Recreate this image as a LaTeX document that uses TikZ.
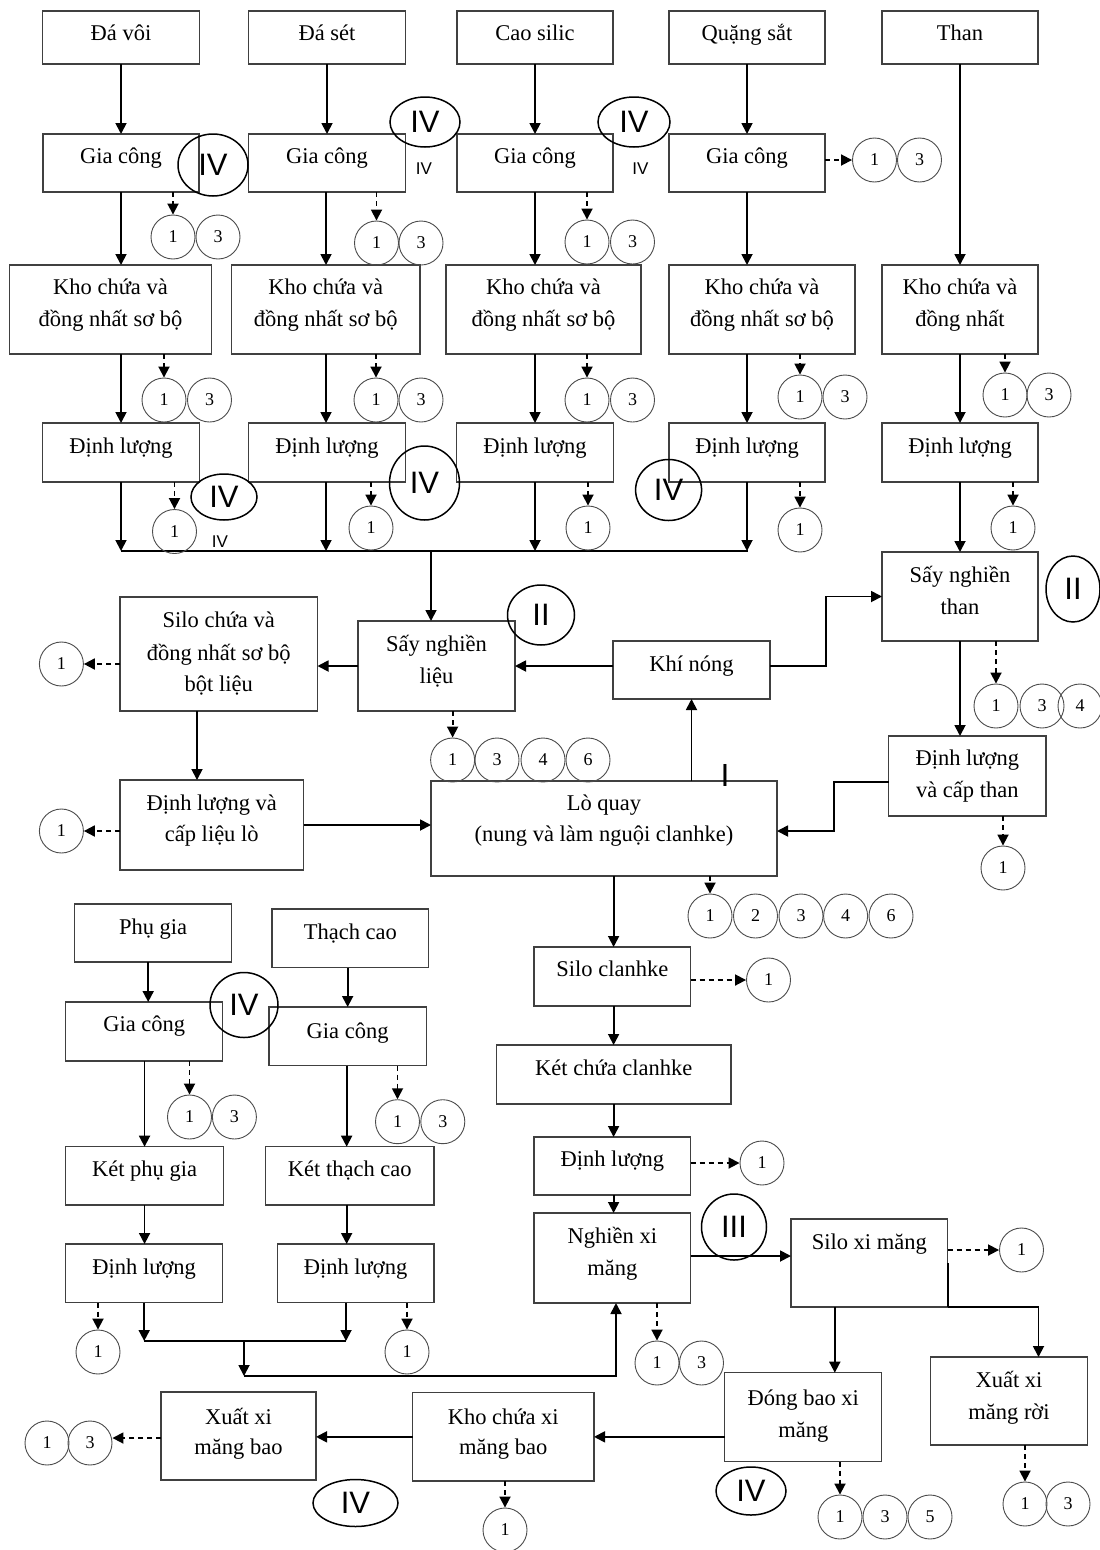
\documentclass[tikz,border=0pt]{standalone}
\usepackage{fontspec}
\setmainfont{Liberation Serif}
\newfontfamily\romfont{Liberation Sans}
\usetikzlibrary{arrows.meta,shapes.geometric}
\tikzset{
  box/.style={draw=black!75, line width=1.3pt, inner sep=0pt, outer sep=0pt},
  t/.style={font=\fontsize{22.5}{25}\selectfont, inner sep=0pt, anchor=base},
  circ/.style={draw=black!70, line width=0.9pt, circle, minimum size=44pt, inner sep=0pt, font=\fontsize{18}{18}\selectfont},
  arr/.style={line width=1.8pt, -{Triangle[length=11pt,width=11pt]}},
  darr/.style={arr, dash pattern=on 5pt off 4pt},
  ln/.style={line width=1.8pt},
  ell/.style={draw=black, line width=1.5pt, ellipse, inner sep=0pt, font=\romfont\fontsize{31}{31}\selectfont},
  st/.style={font=\romfont\fontsize{17}{17}\selectfont, inner sep=0pt}
}
\newcommand\bx[5]{\node[box,minimum width=#4pt,minimum height=#5pt] (#1) at (#2,#3) {};}
\newcommand\tx[4]{\node[t] (#1) at (#2,#3) {#4};}
\newcommand\cc[4]{\node[circ] (#1) at (#2,#3) {#4};}
\begin{document}
\begin{tikzpicture}[x=1pt,y=-1pt]
\useasboundingbox (0,0) rectangle (1100,1550);
\fill[white] (0,0) rectangle (1100,1550);
% ---------- row 1
\bx{dv}{121}{37.5}{157}{53}
\bx{ds}{327}{37.5}{157}{53}
\bx{cs}{535}{37.5}{156}{53}
\bx{qs}{747}{37.5}{156}{53}
\bx{than}{960}{37.5}{156}{53}
\tx{dvt}{121}{40}{Đá vôi}
\tx{dst}{327}{40}{Đá sét}
\tx{cst}{535}{40}{Cao silic}
\tx{qst}{747}{40}{Quặng sắt}
\tx{thant}{960}{40}{Than}
% ---------- row 2
\bx{gc1}{121}{163}{156}{58}
\bx{gc2}{327}{163}{157}{58}
\bx{gc3}{535}{163}{156}{58}
\bx{gc4}{747}{163}{156}{58}
\tx{gc1t}{121}{163}{Gia công}
\tx{gc2t}{327}{163}{Gia công}
\tx{gc3t}{535}{163}{Gia công}
\tx{gc4t}{747}{163}{Gia công}
% ---------- row 3
\bx{k1}{110.5}{309.5}{202}{89}
\bx{k2}{325.75}{309.5}{188.5}{89}
\bx{k3}{543.5}{309.5}{195}{89}
\bx{k4}{762}{309.5}{186}{89}
\bx{k5}{960}{309.5}{156}{89}
\tx{k1t}{110.5}{294}{Kho chứa và}\tx{k1u}{110.5}{326}{đồng nhất sơ bộ}
\tx{k2t}{325.75}{294}{Kho chứa và}\tx{k2u}{325.75}{326}{đồng nhất sơ bộ}
\tx{k3t}{543.5}{294}{Kho chứa và}\tx{k3u}{543.5}{326}{đồng nhất sơ bộ}
\tx{k4t}{762}{294}{Kho chứa và}\tx{k4u}{762}{326}{đồng nhất sơ bộ}
\tx{k5t}{960}{294}{Kho chứa và}\tx{k5u}{960}{326}{đồng nhất}
% ---------- row 4
\bx{d1}{121}{452.5}{156.5}{59}
\bx{d2}{327}{452.5}{157}{59}
\bx{d3}{535}{452.5}{157}{59}
\bx{d4}{747}{452.5}{156}{59}
\bx{d5}{960}{452.5}{156}{59}
\tx{d1t}{121}{453}{Định lượng}
\tx{d2t}{327}{453}{Định lượng}
\tx{d3t}{535}{453}{Định lượng}
\tx{d4t}{747}{453}{Định lượng}
\tx{d5t}{960}{453}{Định lượng}
% ---------- vertical arrows top
\draw[arr] (dv.south) -- (dv.south |- gc1.north);
\draw[arr] (ds.south) -- (ds.south |- gc2.north);
\draw[arr] (cs.south) -- (cs.south |- gc3.north);
\draw[arr] (qs.south) -- (qs.south |- gc4.north);
\draw[arr] (than.south) -- (than.south |- k5.north);
\draw[arr] (gc1.south) -- (gc1.south |- k1.north);
\draw[arr] ([xshift=-1pt]gc2.south) -- ([xshift=-1pt]gc2.south |- k2.north);
\draw[arr] (gc3.south) -- (gc3.south |- k3.north);
\draw[arr] (gc4.south) -- (gc4.south |- k4.north);
\draw[arr] (d1.north |- k1.south) -- (d1.north);
\draw[arr] ([xshift=-1pt]d2.north |- k2.south) -- ([xshift=-1pt]d2.north);
\draw[arr] (d3.north |- k3.south) -- (d3.north);
\draw[arr] (d4.north |- k4.south) -- (d4.north);
\draw[arr] (d5.north |- k5.south) -- (d5.north);
% ---------- bus
\coordinate (busL) at (121,551);
\coordinate (busR) at (748,551);
\coordinate (busM) at (431,551);
\draw[ln] (busL) -- (busR);
\draw[arr] (d1.south) -- (d1.south |- busL);
\draw[arr] ([xshift=-1pt]d2.south) -- ([xshift=-1pt]d2.south |- busL);
\draw[arr] (d3.south) -- (d3.south |- busL);
\draw[arr] (d4.south) -- (d4.south |- busL);
% ---------- circles top part
\cc{g1a}{173}{237}{1}\cc{g1b}{218}{237}{3}
\cc{g2a}{376.5}{243}{1}\cc{g2b}{421}{243}{3}
\cc{g3a}{587}{242}{1}\cc{g3b}{632.5}{242}{3}
\cc{g4a}{874.5}{160}{1}\cc{g4b}{919.5}{160}{3}
\draw[darr] (g1a.north |- gc1.south) -- (g1a.north);
\draw[darr] (g2a.north |- gc2.south) -- (g2a.north);
\draw[darr] (g3a.north |- gc3.south) -- (g3a.north);
\draw[darr] (gc4.east |- g4a.west) -- (g4a.west);
\cc{k1a}{164}{400}{1}\cc{k1b}{209.5}{400}{3}
\cc{k2a}{376}{400}{1}\cc{k2b}{421}{400}{3}
\cc{k3a}{587}{400}{1}\cc{k3b}{632.5}{400}{3}
\cc{k4a}{800}{397}{1}\cc{k4b}{845}{397}{3}
\cc{k5a}{1005}{395}{1}\cc{k5b}{1049}{395}{3}
\draw[darr] (k1a.north |- k1.south) -- (k1a.north);
\draw[darr] (k2a.north |- k2.south) -- (k2a.north);
\draw[darr] (k3a.north |- k3.south) -- (k3a.north);
\draw[darr] (k4a.north |- k4.south) -- (k4a.north);
\draw[darr] (k5a.north |- k5.south) -- (k5a.north);
\cc{d1a}{174.5}{531.5}{1}
\cc{d2a}{371}{528}{1}
\cc{d3a}{588}{528}{1}
\cc{d4a}{800}{530}{1}
\cc{d5a}{1013}{528}{1}
\draw[darr] (d1a.north |- d1.south) -- (d1a.north);
\draw[darr] (d2a.north |- d2.south) -- (d2a.north);
\draw[darr] (d3a.north |- d3.south) -- (d3a.north);
\draw[darr] (d4a.north |- d4.south) -- (d4a.north);
\draw[darr] (d5a.north |- d5.south) -- (d5a.north);
% ---------- IV marks top
\node[ell, minimum width=70pt, minimum height=62pt] (e1) at (213,165) {IV};
\node[ell, minimum width=70pt, minimum height=50pt] (e2) at (425,122) {IV};
\node[ell, minimum width=72pt, minimum height=50pt] (e3) at (634,122) {IV};
\node[ell, minimum width=66pt, minimum height=46pt] (e4) at (224,497) {IV};
\node[ell, minimum width=70pt, minimum height=74pt] (e5) at (424.5,483) {IV};
\node[ell, minimum width=66pt, minimum height=61pt] (e6) at (668.6,490) {IV};
\node[st] (s1) at (424,169) {IV};
\node[st] (s2) at (640.5,169) {IV};
\node[st] (s3) at (220,542) {IV};
% ---------- middle section
\bx{snl}{436.5}{666}{157}{90}
\tx{snlt}{436.5}{651}{Sấy nghiền}\tx{snlu}{436.5}{683}{liệu}
\bx{sbl}{218.75}{654}{197.5}{114}
\tx{sblt}{218.75}{627}{Silo chứa và}\tx{sblu}{218.75}{660}{đồng nhất sơ bộ}\tx{sblv}{218.75}{691}{bột liệu}
\bx{dlcl}{211.75}{825}{183.5}{90}
\tx{dlclt}{211.75}{810}{Định lượng và}\tx{dlclu}{211.75}{841}{cấp liệu lò}
\bx{lq}{604}{828.5}{346}{95}
\tx{lqt}{604}{810}{Lò quay}\tx{lqu}{604}{841}{(nung và làm nguội clanhke)}
\bx{kn}{691.5}{670}{157}{58}
\tx{knt}{691.5}{671}{Khí nóng}
\bx{snt}{960}{596.5}{156}{89}
\tx{sntt}{960}{582}{Sấy nghiền}\tx{sntu}{960}{614}{than}
\bx{dlct}{967.3}{776}{157.4}{80}
\tx{dlctt}{967.3}{765}{Định lượng}\tx{dlctu}{967.3}{797}{và cấp than}
\draw[arr] (busM) -- (busM |- snl.north);
\draw[arr] (snl.west) -- (snl.west -| sbl.east);
\draw[arr] (kn.west |- snl.east) -- (snl.east);
\draw[arr] (kn.east |- snl.east) -- ++(56,0) |- (snt.west);
\draw[arr] (kn.south |- lq.north) -- (kn.south);
\draw[arr] (d5.south) -- (snt.north);
\draw[arr] (snt.south) -- (snt.south |- dlct.north);
\draw[arr] ([yshift=-6pt]dlct.west) -- ++(-55,0) |- ([yshift=-2.5pt]lq.east);
\draw[arr] ([xshift=-21.75pt]sbl.south) -- ([xshift=-21.75pt]sbl.south |- dlcl.north);
\draw[arr] (dlcl.east) -- (dlcl.east -| lq.west);
\cc{sbla}{61.4}{664}{1}
\cc{dlcla}{61.4}{831}{1}
\draw[darr] (sbl.west |- sbla.east) -- (sbla.east);
\draw[darr] (dlcl.west |- dlcla.east) -- (dlcla.east);
\cc{snla}{452.6}{760}{1}\cc{snlb}{497}{760}{3}\cc{snlc}{543}{760}{4}\cc{snld}{588}{760}{6}
\draw[darr] (snla.north |- snl.south) -- (snla.north);
\cc{snta}{996}{706}{1}\cc{sntb}{1042}{706}{3}\cc{sntc}{1080}{706}{4}
\draw[darr] (snta.north |- snt.south) -- (snta.north);
\cc{dlcta}{1003}{868}{1}
\draw[darr] (dlcta.north |- dlct.south) -- (dlcta.north);
\node[ell, minimum width=67pt, minimum height=60pt] (e7) at (541,615) {II};
\node[ell, minimum width=54pt, minimum height=66pt] (e8) at (1073,589) {II};
\node[font=\romfont\fontsize{32}{32}\selectfont, inner sep=0pt] (lI) at (725,775) {I};
% ---------- clinker line
\bx{sc}{612.35}{976.5}{156.7}{59}
\tx{sct}{612.35}{976}{Silo clanhke}
\bx{kc}{613.8}{1074.5}{234.4}{59}
\tx{kct}{613.8}{1075}{Két chứa clanhke}
\bx{dlc}{612.35}{1166}{156.7}{58}
\tx{dlct2}{612.35}{1166}{Định lượng}
\bx{nxm}{612.35}{1258}{156.7}{90}
\tx{nxmt}{612.35}{1243}{Nghiền xi}\tx{nxmu}{612.35}{1275}{măng}
\bx{sxm}{869.3}{1263}{156.6}{88}
\tx{sxmt}{869.3}{1249}{Silo xi măng}
\draw[arr] ([xshift=1.25pt]sc.north |- lq.south) -- ([xshift=1.25pt]sc.north);
\cc{lqa}{710}{916}{1}\cc{lqb}{755.5}{916}{2}\cc{lqc}{801}{916}{3}\cc{lqd}{845.6}{916}{4}\cc{lqe}{891}{916}{6}
\draw[darr] (lqa.north |- lq.south) -- (lqa.north);
\cc{sca}{768.5}{980}{1}
\draw[darr] (sc.east |- sca.west) -- (sca.west);
\draw[arr] ([xshift=1.25pt]sc.south) -- ([xshift=1.25pt]sc.south |- kc.north);
\draw[arr] ([xshift=1.25pt]dlc.north |- kc.south) -- ([xshift=1.25pt]dlc.north);
\cc{dlca}{762}{1163}{1}
\draw[darr] (dlc.east |- dlca.west) -- (dlca.west);
\draw[arr] ([xshift=1.25pt]dlc.south) -- ([xshift=1.25pt]nxm.north);
\draw[arr] (nxm.east |- 0,1256) -- (sxm.west |- 0,1256);
\cc{sxma}{1021.5}{1250}{1}
\draw[darr] (sxm.east |- sxma.west) -- (sxma.west);
\node[ell, minimum width=65pt, minimum height=66pt] (e10) at (734,1227) {III};
\cc{nxma}{657}{1363}{1}\cc{nxmb}{701.5}{1363}{3}
\draw[darr] (nxma.north |- nxm.south) -- (nxma.north);
% ---------- packing
\bx{dbx}{803.25}{1417.2}{157}{89}
\tx{dbxt}{803.25}{1405}{Đóng bao xi}\tx{dbxu}{803.25}{1437}{măng}
\bx{xmr}{1009}{1401}{157}{88}
\tx{xmrt}{1009}{1387}{Xuất xi}\tx{xmru}{1009}{1419}{măng rời}
\bx{kxb}{503.25}{1436.85}{181.5}{88.3}
\tx{kxbt}{503.25}{1424}{Kho chứa xi}\tx{kxbu}{503.25}{1454}{măng bao}
\bx{xxb}{238.5}{1436}{155}{88}
\tx{xxbt}{238.5}{1424}{Xuất xi}\tx{xxbu}{238.5}{1454}{măng bao}
\draw[arr] ([xshift=-34.5pt]sxm.south) -- ([xshift=-34.5pt]sxm.south |- dbx.north);
\draw[ln] (sxm.east) -- (sxm.south east);
\draw[arr] (sxm.south east) -- ([xshift=29.5pt]xmr.north |- sxm.south east) -- ([xshift=29.5pt]xmr.north);
\draw[arr] (dbx.west |- kxb.east) -- (kxb.east);
\draw[arr] (kxb.west) -- (kxb.west -| xxb.east);
\cc{dbxa}{840}{1517}{1}\cc{dbxb}{885}{1517}{3}\cc{dbxc}{930}{1517}{5}
\draw[darr] (dbxa.north |- dbx.south) -- (dbxa.north);
\cc{xmra}{1025}{1504}{1}\cc{xmrb}{1068}{1504}{3}
\draw[darr] (xmra.north |- xmr.south) -- (xmra.north);
\cc{kxba}{505}{1530}{1}
\draw[darr] (kxba.north |- kxb.south) -- (kxba.north);
\cc{xxba}{47}{1443}{1}\cc{xxbb}{90}{1443}{3}
\draw[darr] (xxb.west |- 0,1438) -- (xxbb.east |- 0,1438);
\node[ell, minimum width=85pt, minimum height=47pt] (e11) at (355.5,1503) {IV};
\node[ell, minimum width=70pt, minimum height=48pt] (e12) at (751,1491) {IV};
% ---------- additives
\bx{pg}{153.15}{933}{157}{58}
\tx{pgt}{153.15}{934}{Phụ gia}
\bx{tc}{350.4}{938.35}{156.8}{58.7}
\tx{tct}{350.4}{939}{Thạch cao}
\bx{gcp}{144.2}{1031.5}{157.2}{59}
\tx{gcpt}{144.2}{1031}{Gia công}
\bx{gct}{347.65}{1036.35}{157.3}{58.7}
\tx{gctt}{347.65}{1038}{Gia công}
\bx{kpg}{144.55}{1175.85}{157.9}{58.3}
\tx{kpgt}{144.55}{1176}{Két phụ gia}
\bx{ktc}{349.8}{1175.85}{168.4}{58.3}
\tx{ktct}{349.8}{1176}{Két thạch cao}
\bx{dlp}{144.2}{1273.35}{157.2}{58.7}
\tx{dlpt}{144.2}{1274}{Định lượng}
\bx{dlt}{355.6}{1273.35}{156.8}{58.7}
\tx{dltt}{355.6}{1274}{Định lượng}
\draw[arr] ([xshift=4pt]gcp.north |- pg.south) -- ([xshift=4pt]gcp.north);
\draw[arr] (gct.north |- tc.south) -- (gct.north);
\draw[arr] (kpg.north |- gcp.south) -- (kpg.north);
\draw[arr] ([xshift=-1pt]gct.south) -- ([xshift=-1pt]gct.south |- ktc.north);
\draw[arr] (kpg.south) -- (kpg.south |- dlp.north);
\draw[arr] ([xshift=-1pt]gct.south |- ktc.south) -- ([xshift=-1pt]gct.south |- dlt.north);
\cc{gcpa}{189.5}{1117}{1}\cc{gcpb}{234.4}{1117}{3}
\draw[darr] (gcpa.north |- gcp.south) -- (gcpa.north);
\cc{gcta}{397.5}{1121.7}{1}\cc{gctb}{442.8}{1121.7}{3}
\draw[darr] (gcta.north |- gct.south) -- (gcta.north);
\node[ell, minimum width=68pt, minimum height=65pt] (e9) at (244,1005) {IV};
\cc{dlpa}{98}{1352}{1}
\draw[darr] (dlpa.north |- dlp.south) -- (dlpa.north);
\cc{dlta}{407}{1352}{1}
\draw[darr] (dlta.north |- dlt.south) -- (dlta.north);
\coordinate (m1) at (143.8,1341);
\coordinate (m2) at (346,1341);
\coordinate (m3) at (244,1341);
\coordinate (m4) at (244,1376);
\coordinate (m5) at (616,1376);
\draw[arr] (dlp.south) -- (dlp.south |- m1);
\draw[arr] (m2 |- dlt.south) -- (m2);
\draw[ln] (m1) -- (m2);
\draw[arr] (m3) -- (m4);
\draw[arr] (m4) -- (m5) -- (m5 |- nxm.south);
\end{tikzpicture}
\end{document}
